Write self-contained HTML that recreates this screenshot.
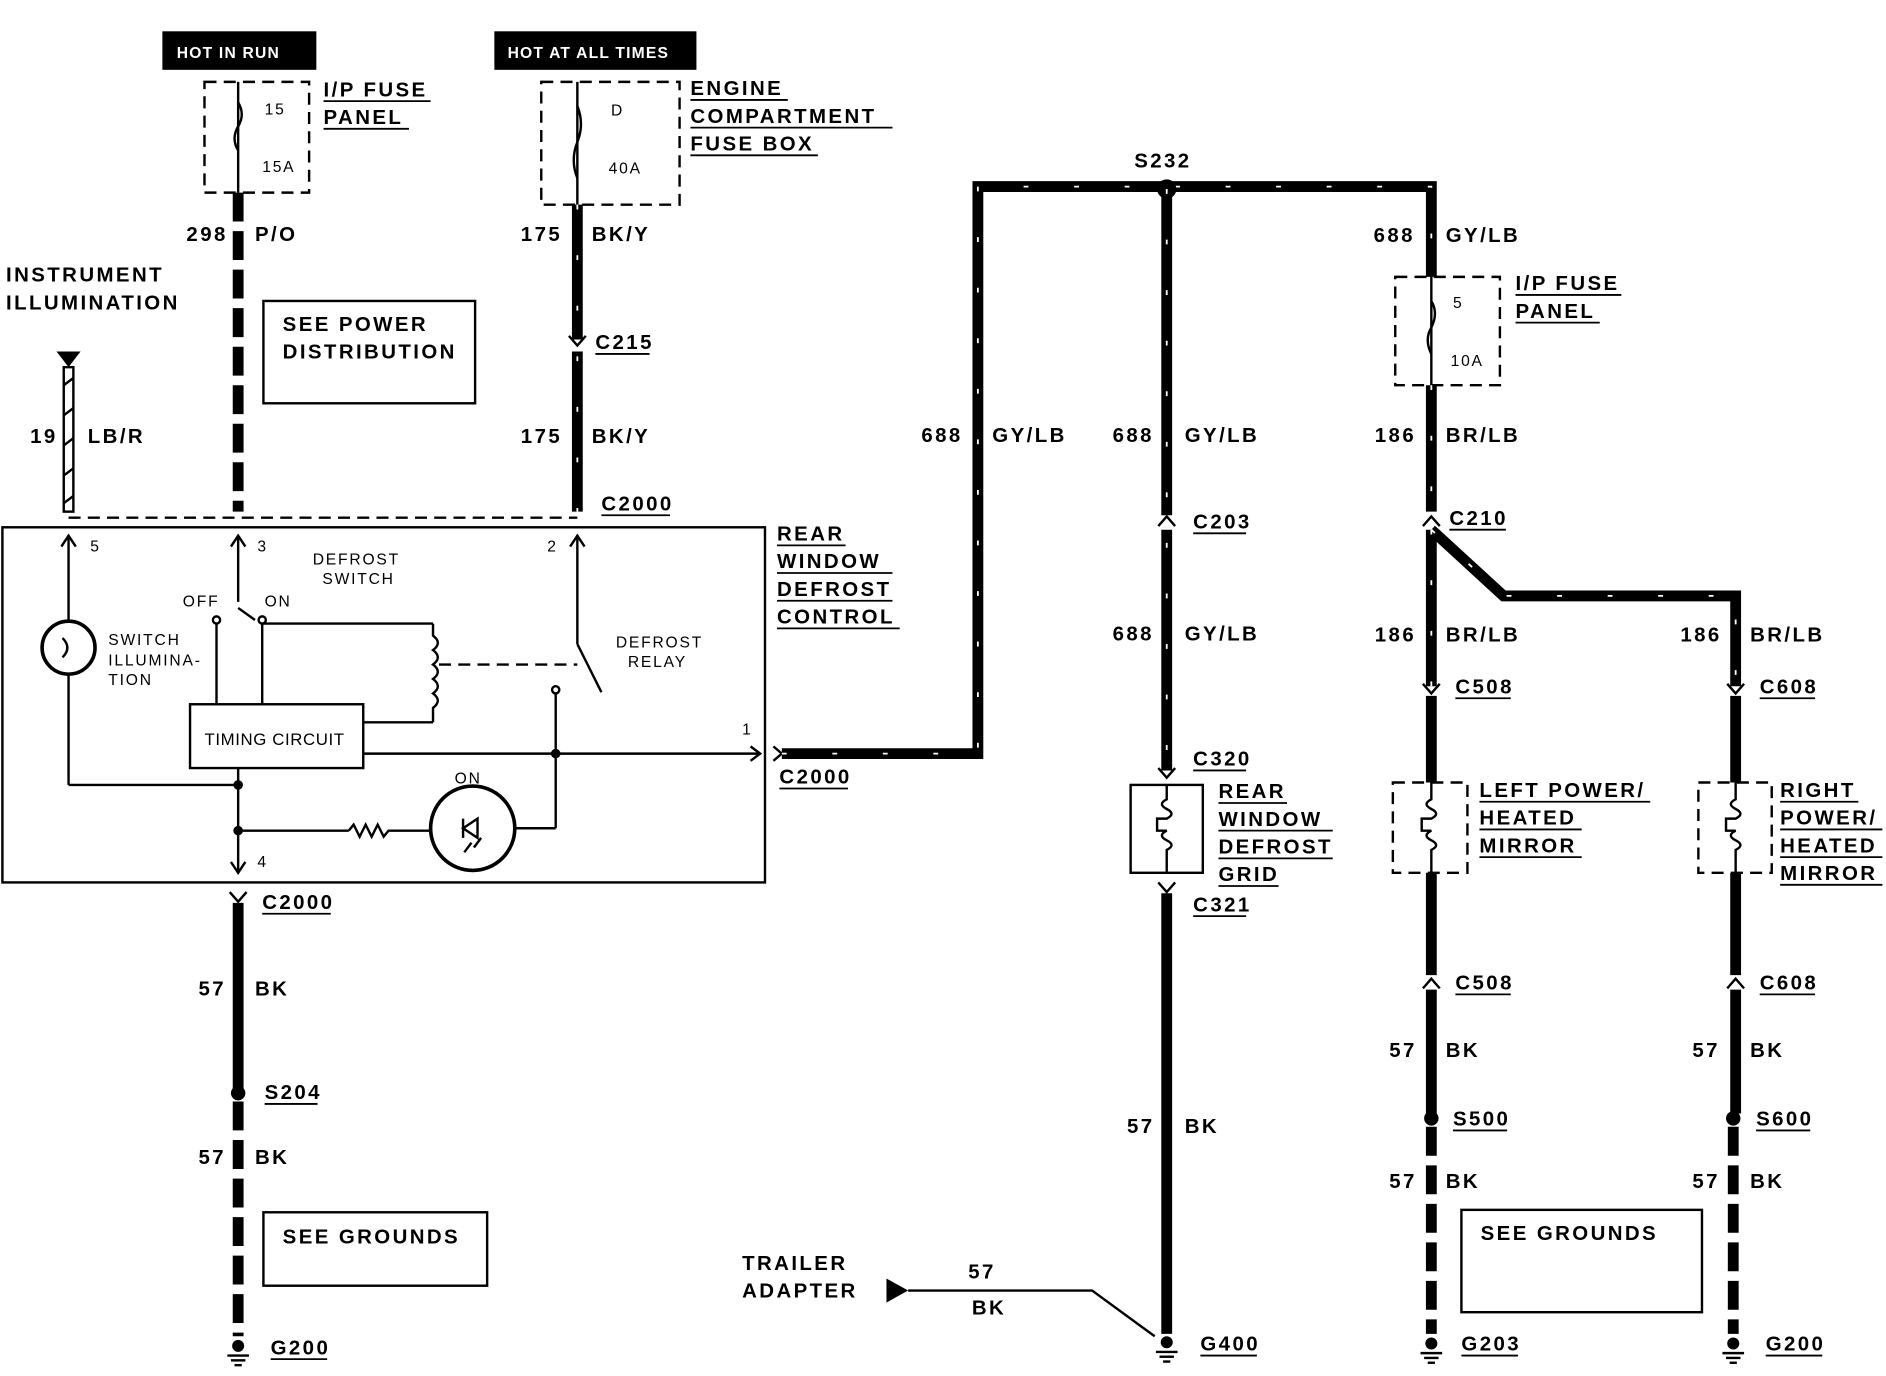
<!DOCTYPE html>
<html><head><meta charset="utf-8"><style>
html,body{margin:0;padding:0;background:#fff}
svg{display:block}
text{font-family:"Liberation Sans",sans-serif;font-weight:bold;fill:#000}
.l{font-size:17px;letter-spacing:2px}
.s{font-size:13px;font-weight:normal;letter-spacing:1.5px}
.w{stroke:#000;stroke-width:9;fill:none}
.tk{stroke:#fff;stroke-width:1.5;stroke-dasharray:4 38;fill:none}
.dw{stroke:#000;stroke-width:9;fill:none;stroke-dasharray:24 8}
.t{stroke:#000;stroke-width:2;fill:none}
.u{stroke:#000;stroke-width:1.5}
</style></head><body>
<svg width="1886" height="1376" viewBox="0 0 1568 1143" preserveAspectRatio="none" xmlns="http://www.w3.org/2000/svg">
<defs>
<g id="gnd"><circle cx="0" cy="0" r="5" fill="#000"/><line x1="-9" y1="8" x2="9" y2="8" class="t"/><line x1="-6" y1="12" x2="6" y2="12" class="t"/><line x1="-3" y1="16" x2="3" y2="16" class="t"/></g>
<g id="cd"><path d="M-7,-5 L0,3 L7,-5" class="t" stroke-width="3"/></g>
<g id="cu"><path d="M-7,5 L0,-3 L7,5" class="t" stroke-width="3"/></g>
</defs>
<rect x="135" y="26" width="128" height="32" fill="#000"/>
<text x="147" y="48" class="s" style="fill:#fff;font-weight:bold;letter-spacing:1px">HOT IN  RUN</text>
<rect x="411" y="26" width="168" height="32" fill="#000"/>
<text x="422" y="48" class="s" style="fill:#fff;font-weight:bold;letter-spacing:1px">HOT AT ALL TIMES</text>
<rect x="170" y="68" width="87" height="92" class="t" stroke-dasharray="10 6"/>
<line x1="198" y1="68" x2="198" y2="160" class="t"/>
<path d="M198,85 q6,10 0,20 q-6,10 0,20" class="t" fill="#fff"/>
<text x="220" y="95" class="s">15</text><text x="218" y="143" class="s">15A</text>
<text x="269" y="80" class="l">I/P FUSE</text><line x1="269" y1="84" x2="358" y2="84" class="u"/>
<text x="269" y="103" class="l">PANEL</text><line x1="269" y1="107" x2="340" y2="107" class="u"/>
<rect x="450" y="68" width="115" height="102" class="t" stroke-dasharray="10 6"/>
<line x1="480" y1="68" x2="480" y2="170" class="t"/>
<path d="M480,88 q6,15 0,30 q-6,15 0,30" class="t" fill="#fff"/>
<text x="508" y="96" class="s">D</text><text x="506" y="144" class="s">40A</text>
<text x="574" y="79" class="l">ENGINE</text><line x1="574" y1="83" x2="655" y2="83" class="u"/>
<text x="574" y="102" class="l">COMPARTMENT</text><line x1="574" y1="106" x2="742" y2="106" class="u"/>
<text x="574" y="125" class="l">FUSE BOX</text><line x1="574" y1="129" x2="680" y2="129" class="u"/>
<line x1="198" y1="160" x2="198" y2="425" class="dw"/>
<text x="155" y="200" class="l">298</text><text x="212" y="200" class="l">P/O</text>
<line x1="480" y1="170" x2="480" y2="282" class="w"/><line x1="480" y1="292" x2="480" y2="425" class="w"/>
<line x1="480" y1="170" x2="480" y2="425" class="tk"/>
<use href="#cd" x="480" y="284"/>
<text x="433" y="200" class="l">175</text><text x="492" y="200" class="l">BK/Y</text>
<text x="495" y="290" class="l">C215</text><line x1="495" y1="294" x2="540" y2="294" class="u"/>
<text x="433" y="368" class="l">175</text><text x="492" y="368" class="l">BK/Y</text>
<text x="5" y="234" class="l">INSTRUMENT</text><text x="5" y="257" class="l">ILLUMINATION</text>
<path d="M47,292 L67,292 L57,305 Z" fill="#000"/>
<rect x="53" y="305" width="8" height="120" fill="#fff" stroke="#000" stroke-width="2"/>
<path d="M53,320 l8,-6 M53,345 l8,-6 M53,370 l8,-6 M53,395 l8,-6 M53,418 l8,-6" class="t" stroke-width="1"/>
<text x="25" y="368" class="l">19</text><text x="73" y="368" class="l">LB/R</text>
<rect x="219" y="250" width="176" height="85" class="t"/>
<text x="235" y="275" class="l">SEE POWER</text><text x="235" y="298" class="l">DISTRIBUTION</text>
<line x1="57" y1="430" x2="480" y2="430" class="t" stroke-dasharray="10 6"/>
<text x="500" y="424" class="l">C2000</text><line x1="500" y1="428" x2="557" y2="428" class="u"/>
<rect x="2" y="438" width="634" height="295" class="t" stroke-width="3"/>
<g class="t">
<line x1="57" y1="445" x2="57" y2="516"/><path d="M51,454 L57,445 L63,454"/>
<line x1="198" y1="445" x2="198" y2="500"/><path d="M192,454 L198,445 L204,454"/>
<line x1="480" y1="445" x2="480" y2="535"/><path d="M474,454 L480,445 L486,454"/>
<circle cx="57" cy="538" r="22" stroke-width="3"/>
<path d="M52,530 q8,8 0,16"/>
<line x1="57" y1="560" x2="57" y2="652"/>
<line x1="57" y1="652" x2="198" y2="652"/>
<line x1="198" y1="505" x2="212" y2="515"/>
<line x1="180" y1="515" x2="180" y2="585"/>
<line x1="218" y1="515" x2="218" y2="585"/>
<line x1="218" y1="518" x2="360" y2="518"/>
<path d="M360,518 v10 q8,6 0,12 q8,6 0,12 q8,6 0,12 q8,6 0,12 q8,6 0,12 v12"/>
<line x1="302" y1="600" x2="360" y2="600"/>
<line x1="365" y1="552" x2="480" y2="552" stroke-dasharray="10 6"/>
<line x1="480" y1="535" x2="500" y2="575"/>
<line x1="462" y1="573" x2="462" y2="688"/>
<line x1="302" y1="626" x2="632" y2="626"/><path d="M624,620 L632,626 L624,632"/>
<line x1="198" y1="638" x2="198" y2="725"/><path d="M192,716 L198,725 L204,716"/>
<line x1="198" y1="690" x2="290" y2="690"/>
<path d="M290,690 l4,-5 l5,10 l5,-10 l5,10 l5,-10 l5,10 l4,-5 h34" />
<circle cx="393" cy="688" r="35" stroke-width="3"/>
<line x1="428" y1="688" x2="462" y2="688"/>
<path d="M385,680 v16 M385,688 l12,-8 v16 z M400,696 l-6,8 M392,700 l-6,8"/>
</g>
<circle cx="180" cy="515" r="3" fill="#fff" stroke="#000" stroke-width="2"/>
<circle cx="218" cy="515" r="3" fill="#fff" stroke="#000" stroke-width="2"/>
<circle cx="462" cy="573" r="3" fill="#fff" stroke="#000" stroke-width="2"/>
<circle cx="198" cy="652" r="4" fill="#000"/><circle cx="198" cy="690" r="4" fill="#000"/><circle cx="462" cy="626" r="4" fill="#000"/>
<rect x="158" y="585" width="144" height="53" class="t" fill="#fff"/>
<text x="170" y="619" class="s" style="font-size:14px;letter-spacing:0.5px">TIMING CIRCUIT</text>
<text x="75" y="458" class="s">5</text><text x="214" y="458" class="s">3</text><text x="455" y="458" class="s">2</text>
<text x="617" y="610" class="s">1</text><text x="214" y="720" class="s">4</text>
<text x="260" y="469" class="s">DEFROST</text><text x="268" y="485" class="s">SWITCH</text>
<text x="152" y="504" class="s">OFF</text><text x="220" y="504" class="s">ON</text>
<text x="90" y="536" class="s">SWITCH</text><text x="90" y="553" class="s">ILLUMINA-</text><text x="90" y="569" class="s">TION</text>
<text x="512" y="538" class="s">DEFROST</text><text x="522" y="554" class="s">RELAY</text>
<text x="378" y="651" class="s">ON</text>
<text x="646" y="449" class="l">REAR</text><line x1="646" y1="453" x2="703" y2="453" class="u"/>
<text x="646" y="472" class="l">WINDOW</text><line x1="646" y1="476" x2="742" y2="476" class="u"/>
<text x="646" y="495" class="l">DEFROST</text><line x1="646" y1="499" x2="742" y2="499" class="u"/>
<text x="646" y="518" class="l">CONTROL</text><line x1="646" y1="522" x2="748" y2="522" class="u"/>
<use href="#cd" x="198" y="746"/>
<text x="218" y="755" class="l">C2000</text><line x1="218" y1="759" x2="275" y2="759" class="u"/>
<line x1="198" y1="750" x2="198" y2="905" class="w"/>
<circle cx="198" cy="908" r="6" fill="#000"/>
<line x1="198" y1="915" x2="198" y2="1110" class="dw"/>
<text x="165" y="827" class="l">57</text><text x="212" y="827" class="l">BK</text>
<text x="220" y="913" class="l">S204</text><line x1="220" y1="917" x2="264" y2="917" class="u"/>
<text x="165" y="967" class="l">57</text><text x="212" y="967" class="l">BK</text>
<rect x="219" y="1007" width="186" height="61" class="t"/>
<text x="235" y="1033" class="l">SEE GROUNDS</text>
<use href="#gnd" x="198" y="1118"/>
<text x="225" y="1125" class="l">G200</text><line x1="225" y1="1129" x2="272" y2="1129" class="u"/>
<path d="M643,620 L650,626 L643,632" class="t" stroke-width="3"/>
<text x="648" y="651" class="l">C2000</text><line x1="648" y1="655" x2="705" y2="655" class="u"/>
<path d="M650,626 H813 V155 H1190 V230" class="w"/>
<path d="M650,626 H813 V155 H1190 V230" class="tk"/>
<circle cx="970" cy="157" r="8" fill="#000"/>
<text x="943" y="139" class="l">S232</text>
<text x="766" y="367" class="l">688</text><text x="825" y="367" class="l">GY/LB</text>
<line x1="970" y1="157" x2="970" y2="428" class="w"/><line x1="970" y1="440" x2="970" y2="640" class="w"/>
<line x1="970" y1="157" x2="970" y2="640" class="tk"/>
<use href="#cu" x="970" y="432"/><use href="#cd" x="970" y="643"/>
<text x="925" y="367" class="l">688</text><text x="985" y="367" class="l">GY/LB</text>
<text x="992" y="439" class="l">C203</text><line x1="992" y1="443" x2="1036" y2="443" class="u"/>
<text x="925" y="532" class="l">688</text><text x="985" y="532" class="l">GY/LB</text>
<text x="992" y="636" class="l">C320</text><line x1="992" y1="640" x2="1036" y2="640" class="u"/>
<rect x="940" y="652" width="60" height="73" class="t" stroke-width="3"/>
<path d="M970,652 v12 q-8,4 0,8 q8,4 0,8 h-8 v10 h8 q-8,4 0,8 q8,4 0,8 v19" class="t"/>
<text x="1013" y="663" class="l">REAR</text><line x1="1013" y1="667" x2="1070" y2="667" class="u"/>
<text x="1013" y="686" class="l">WINDOW</text><line x1="1013" y1="690" x2="1108" y2="690" class="u"/>
<text x="1013" y="709" class="l">DEFROST</text><line x1="1013" y1="713" x2="1108" y2="713" class="u"/>
<text x="1013" y="732" class="l">GRID</text><line x1="1013" y1="736" x2="1063" y2="736" class="u"/>
<use href="#cd" x="970" y="738"/>
<text x="992" y="757" class="l">C321</text><line x1="992" y1="761" x2="1036" y2="761" class="u"/>
<line x1="970" y1="742" x2="970" y2="1108" class="w"/>
<text x="937" y="941" class="l">57</text><text x="985" y="941" class="l">BK</text>
<use href="#gnd" x="970" y="1115"/>
<text x="998" y="1122" class="l">G400</text><line x1="998" y1="1126" x2="1045" y2="1126" class="u"/>
<text x="617" y="1055" class="l">TRAILER</text><text x="617" y="1078" class="l">ADAPTER</text>
<path d="M737,1062 L755,1072 L737,1082 Z" fill="#000"/>
<path d="M755,1072 H908 L960,1110" class="t" stroke-width="7"/>
<text x="805" y="1062" class="l">57</text><text x="808" y="1092" class="l">BK</text>
<text x="1142" y="201" class="l">688</text><text x="1202" y="201" class="l">GY/LB</text>
<rect x="1160" y="230" width="87" height="90" class="t" stroke-dasharray="10 6"/>
<line x1="1190" y1="230" x2="1190" y2="320" class="t"/>
<path d="M1190,250 q6,10 0,22 q-6,10 0,22" class="t" fill="#fff"/>
<text x="1208" y="256" class="s">5</text><text x="1206" y="304" class="s">10A</text>
<text x="1260" y="241" class="l">I/P FUSE</text><line x1="1260" y1="245" x2="1348" y2="245" class="u"/>
<text x="1260" y="264" class="l">PANEL</text><line x1="1260" y1="268" x2="1330" y2="268" class="u"/>
<line x1="1190" y1="320" x2="1190" y2="425" class="w"/>
<path d="M1190,440 V570 M1190,440 L1250,495 H1443 V570" class="w"/>
<path d="M1190,320 V425 M1190,440 V570 M1190,440 L1250,495 H1443 V570" class="tk"/>
<use href="#cu" x="1190" y="432"/>
<text x="1143" y="367" class="l">186</text><text x="1202" y="367" class="l">BR/LB</text>
<text x="1205" y="436" class="l">C210</text><line x1="1205" y1="440" x2="1252" y2="440" class="u"/>
<text x="1143" y="533" class="l">186</text><text x="1202" y="533" class="l">BR/LB</text>
<text x="1397" y="533" class="l">186</text><text x="1455" y="533" class="l">BR/LB</text>
<use href="#cd" x="1190" y="573"/><use href="#cd" x="1443" y="573"/>
<text x="1210" y="576" class="l">C508</text><line x1="1210" y1="580" x2="1256" y2="580" class="u"/>
<text x="1463" y="576" class="l">C608</text><line x1="1463" y1="580" x2="1509" y2="580" class="u"/>
<line x1="1190" y1="578" x2="1190" y2="650" class="w"/><line x1="1443" y1="578" x2="1443" y2="650" class="w"/>
<rect x="1158" y="650" width="62" height="75" class="t" stroke-dasharray="10 6"/>
<rect x="1412" y="650" width="61" height="75" class="t" stroke-dasharray="10 6"/>
<path d="M1190,650 v14 q-8,4 0,8 q8,4 0,8 h-8 v10 h8 q-8,4 0,8 q8,4 0,8 v19" class="t"/>
<path d="M1443,650 v14 q-8,4 0,8 q8,4 0,8 h-8 v10 h8 q-8,4 0,8 q8,4 0,8 v19" class="t"/>
<text x="1230" y="662" class="l">LEFT POWER/</text><line x1="1230" y1="666" x2="1372" y2="666" class="u"/>
<text x="1230" y="685" class="l">HEATED</text><line x1="1230" y1="689" x2="1315" y2="689" class="u"/>
<text x="1230" y="708" class="l">MIRROR</text><line x1="1230" y1="712" x2="1315" y2="712" class="u"/>
<text x="1480" y="662" class="l">RIGHT</text><line x1="1480" y1="666" x2="1545" y2="666" class="u"/>
<text x="1480" y="685" class="l">POWER/</text><line x1="1480" y1="689" x2="1565" y2="689" class="u"/>
<text x="1480" y="708" class="l">HEATED</text><line x1="1480" y1="712" x2="1565" y2="712" class="u"/>
<text x="1480" y="731" class="l">MIRROR</text><line x1="1480" y1="735" x2="1565" y2="735" class="u"/>
<line x1="1190" y1="725" x2="1190" y2="810" class="w"/><line x1="1443" y1="725" x2="1443" y2="810" class="w"/>
<use href="#cu" x="1190" y="816"/><use href="#cu" x="1443" y="816"/>
<line x1="1190" y1="822" x2="1190" y2="925" class="w"/><line x1="1443" y1="822" x2="1443" y2="925" class="w"/>
<text x="1210" y="822" class="l">C508</text><line x1="1210" y1="826" x2="1256" y2="826" class="u"/>
<text x="1463" y="822" class="l">C608</text><line x1="1463" y1="826" x2="1509" y2="826" class="u"/>
<text x="1155" y="878" class="l">57</text><text x="1202" y="878" class="l">BK</text>
<text x="1407" y="878" class="l">57</text><text x="1455" y="878" class="l">BK</text>
<circle cx="1190" cy="929" r="6" fill="#000"/><circle cx="1441" cy="929" r="6" fill="#000"/>
<text x="1208" y="935" class="l">S500</text><line x1="1208" y1="939" x2="1253" y2="939" class="u"/>
<text x="1460" y="935" class="l">S600</text><line x1="1460" y1="939" x2="1505" y2="939" class="u"/>
<line x1="1190" y1="936" x2="1190" y2="1108" class="dw"/><line x1="1441" y1="936" x2="1441" y2="1108" class="dw"/>
<text x="1155" y="987" class="l">57</text><text x="1202" y="987" class="l">BK</text>
<text x="1407" y="987" class="l">57</text><text x="1455" y="987" class="l">BK</text>
<rect x="1215" y="1005" width="200" height="85" class="t"/>
<text x="1231" y="1030" class="l">SEE GROUNDS</text>
<use href="#gnd" x="1190" y="1116"/><use href="#gnd" x="1441" y="1116"/>
<text x="1215" y="1122" class="l">G203</text><line x1="1215" y1="1126" x2="1262" y2="1126" class="u"/>
<text x="1468" y="1122" class="l">G200</text><line x1="1468" y1="1126" x2="1515" y2="1126" class="u"/>
</svg>
</body></html>
